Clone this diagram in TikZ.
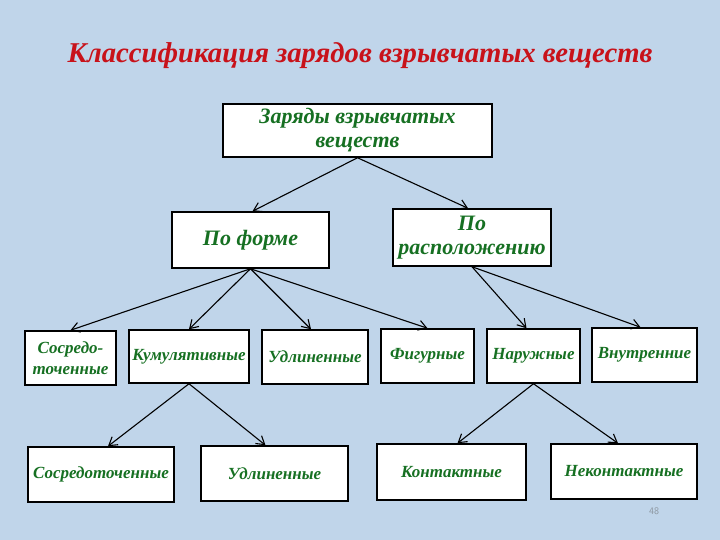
\documentclass[tikz,border=0pt]{standalone}
\usepackage{fontspec}
\setmainfont{Liberation Serif}
\usetikzlibrary{arrows.meta}
\definecolor{bgblue}{RGB}{192,213,234}
\definecolor{titlered}{RGB}{200,18,26}
\definecolor{txtgreen}{RGB}{22,112,34}
\definecolor{pagegray}{RGB}{140,150,160}
\tikzset{
  box/.style={draw=black, line width=1.5pt, fill=white, inner sep=1pt, align=center,
    text=txtgreen, font=\bfseries\itshape},
  big/.style={font=\fontsize{22}{24}\selectfont\bfseries\itshape},
  small/.style={font=\fontsize{17}{22}\selectfont\bfseries\itshape},
  conn/.style={draw=black, line width=1.1pt, -{Straight Barb[length=8pt,width=10pt,line width=1.1pt]}}
}
\begin{document}
\begin{tikzpicture}[x=1pt,y=-1pt]
\useasboundingbox (0,0) rectangle (720,540);
\fill[bgblue] (0,0) rectangle (720,540);
\node[text=titlered, font=\fontsize{28.7}{30}\selectfont\bfseries\itshape] (title) at (360,56) {Классификация зарядов взрывчатых веществ};
% level 1
\node[box, big, minimum width=269pt, minimum height=53pt, inner sep=2pt] (root) at (357.5,130.5) {Заряды взрывчатых\\веществ};
% level 2
\node[box, big, minimum width=157pt, minimum height=56pt] (forme) at (250.5,240) {По форме};
\node[box, big, minimum width=158pt, minimum height=57pt] (rasp) at (472,237.5) {По\\расположению};
% level 3
\node[box, small, minimum width=91pt, minimum height=54pt] (sosr) at (70.5,358) {Сосредо-\\[-1pt]точенные};
\node[box, small, minimum width=120pt, minimum height=53pt] (kum) at (189,356.5) {Кумулятивные};
\node[box, small, minimum width=106pt, minimum height=54pt] (udl) at (315,357) {Удлиненные};
\node[box, small, minimum width=93pt, minimum height=54pt] (fig) at (427.5,356) {Фигурные};
\node[box, small, minimum width=93pt, minimum height=54pt] (nar) at (533.5,356) {Наружные};
\node[box, small, minimum width=105pt, minimum height=54pt] (vnu) at (644.5,355) {Внутренние};
% level 4
\node[box, small, minimum width=146pt, minimum height=55pt] (sosr2) at (101,474.5) {Сосредоточенные};
\node[box, small, minimum width=147pt, minimum height=55pt] (udl2) at (274.5,473.5) {Удлиненные};
\node[box, small, minimum width=149pt, minimum height=56pt] (kont) at (451.5,472) {Контактные};
\node[box, small, minimum width=146pt, minimum height=55pt] (nekont) at (624,471.5) {Неконтактные};
% page number
\node[text=pagegray, font=\fontsize{10}{11}\selectfont\sffamily] (pg) at (654,511) {48};
% connectors
\draw[conn] (root.south) -- ([xshift=2pt]forme.north);
\draw[conn] (root.south) -- ([xshift=-4pt]rasp.north);
\draw[conn] (forme.south) -- (sosr.north);
\draw[conn] (forme.south) -- (kum.north);
\draw[conn] (forme.south) -- ([xshift=-4pt]udl.north);
\draw[conn] (forme.south) -- (fig.north);
\draw[conn] (rasp.south) -- ([xshift=-7pt]nar.north);
\draw[conn] (rasp.south) -- ([xshift=-4pt]vnu.north);
\draw[conn] (kum.south) -- ([xshift=7pt]sosr2.north);
\draw[conn] (kum.south) -- ([xshift=-9pt]udl2.north);
\draw[conn] (nar.south) -- ([xshift=6pt]kont.north);
\draw[conn] (nar.south) -- ([xshift=-6pt]nekont.north);
\end{tikzpicture}
\end{document}
